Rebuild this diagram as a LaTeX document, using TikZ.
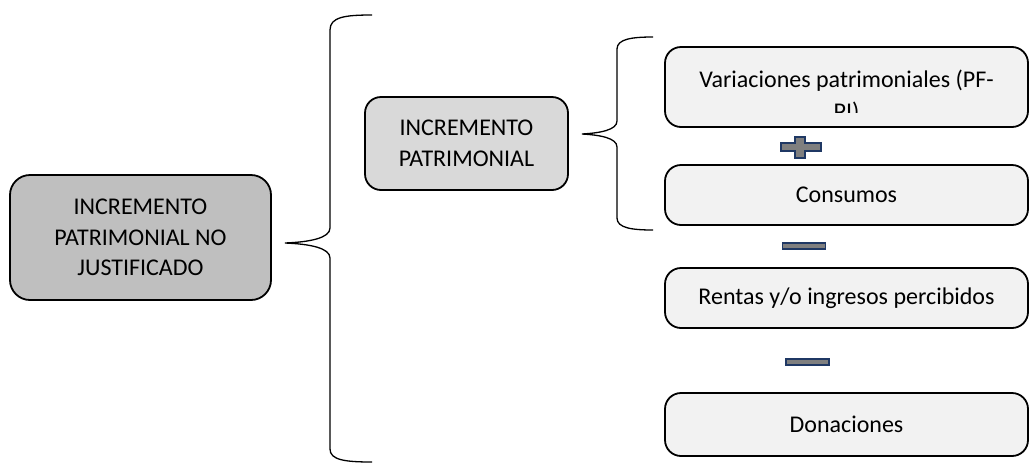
\documentclass[tikz,border=0pt]{standalone}
\usepackage{fontspec}
\setmainfont{Carlito}
\usepackage{tikz}
\usepackage{xcolor}
\definecolor{darkfill}{HTML}{BFBFBF}
\definecolor{midfill}{HTML}{D9D9D9}
\definecolor{lightfill}{HTML}{F2F2F2}
\definecolor{signgray}{HTML}{7F7F7F}
\definecolor{signblue}{HTML}{1F3864}
\begin{document}
\begin{tikzpicture}[x=1pt,y=-1pt,
    box/.style={draw, line width=1.8pt, rounded corners=16pt, align=center,
      font=\fontsize{24}{30.5}\selectfont, inner sep=0pt},
    itembox/.style={box, fill=lightfill, minimum width=363pt},
    brace/.style={line width=1.3pt},
    sign/.style={fill=signgray, draw=signblue, line width=1.3pt},
    minus/.style={sign, minimum width=43pt, minimum height=6pt, inner sep=0pt}]
                \useasboundingbox (0,0) rectangle (1030,464);
                \node[box, fill=darkfill, minimum width=261pt, minimum height=125pt, rounded corners=20pt]
                    (ipnj) at (140.5,237.5) {INCREMENTO\\PATRIMONIAL NO\\JUSTIFICADO};
                \node[box, fill=midfill, minimum width=203pt, minimum height=93pt]
                    (ip) at (466.5,143.5) {INCREMENTO\\PATRIMONIAL};
                \node[itembox, minimum height=80pt] (variaciones) at (846.5,87) {};
                \begin{scope}
                    \clip (665,47) rectangle (1028,112.5);
                    \node[anchor=north, align=center, inner sep=0pt, font=\fontsize{24}{32}\selectfont]
                        (variacionestxt) at (846.5,70) {Variaciones patrimoniales (PF-\\PI)};
                \end{scope}
                \node[itembox, minimum height=60pt] (consumos) at (846.5,195) {Consumos};
                \node[itembox, minimum height=60pt] (rentas) at (846.5,298) {Rentas y/o ingresos percibidos};
                \node[itembox, minimum height=63pt] (donaciones) at (846.5,424.5) {Donaciones};
                % big brace
                \coordinate (bigtip) at (285,243);
                \draw[brace] (372,15) .. controls (345,15) and (330,17) .. (330,30) -- (330,228)
                    .. controls (330,238) and (310,242) .. (bigtip)
                    .. controls (310,244) and (330,248) .. (330,258) -- (330,449)
                    .. controls (330,460) and (345,462) .. (372,462);
                % small brace
                \coordinate (smalltip) at (582,134);
                \draw[brace] (653,37) .. controls (632,37) and (617,39) .. (617,49) -- (617,121)
                    .. controls (617,130) and (600,133) .. (smalltip)
                    .. controls (600,135) and (617,138) .. (617,147) -- (617,218)
                    .. controls (617,228) and (632,230) .. (653,230);
                % signs
                \draw[sign] (781,143) -- (795,143) -- (795,137) -- (805,137) -- (805,143) -- (821,143)
                    -- (821,151) -- (805,151) -- (805,158) -- (795,158) -- (795,151) -- (781,151) -- cycle;
                \node[minus] (minusa) at (804,246) {};
                \node[minus] (minusb) at (807.5,362) {};
            \end{tikzpicture}
\end{document}
